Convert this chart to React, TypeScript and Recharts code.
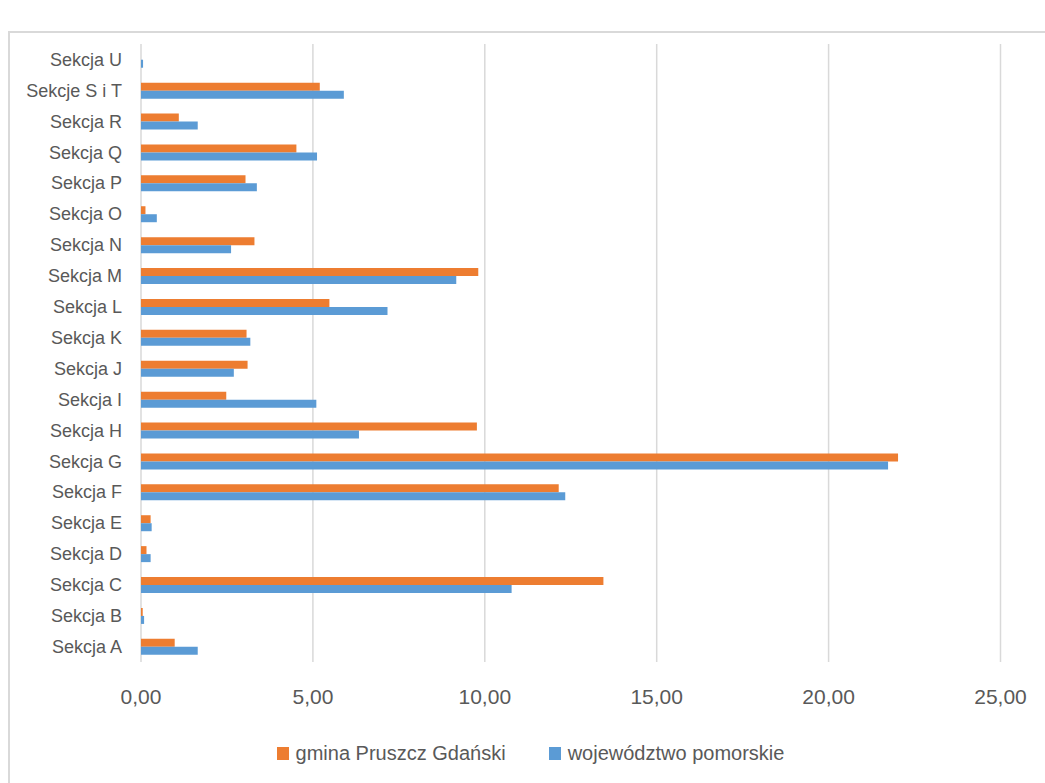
import { BarChart, Bar, XAxis, YAxis, CartesianGrid, Legend } from "recharts";

// sekcje PKD, od dołu (A) do góry (U)
const sections = [
  "Sekcja A", "Sekcja B", "Sekcja C", "Sekcja D", "Sekcja E", "Sekcja F", "Sekcja G",
  "Sekcja H", "Sekcja I", "Sekcja J", "Sekcja K", "Sekcja L", "Sekcja M", "Sekcja N",
  "Sekcja O", "Sekcja P", "Sekcja Q", "Sekcja R", "Sekcje S i T", "Sekcja U",
];
const gmina = [0.98, 0.05, 13.45, 0.16, 0.28, 12.15, 22.02, 9.77, 2.48, 3.1, 3.07, 5.48, 9.81, 3.3, 0.13, 3.04, 4.52, 1.1, 5.2, 0];
const wojewodztwo = [1.65, 0.09, 10.78, 0.28, 0.31, 12.34, 21.73, 6.34, 5.1, 2.7, 3.18, 7.17, 9.17, 2.62, 0.46, 3.37, 5.12, 1.65, 5.9, 0.06];
const xTicks = [0, 5, 10, 15, 20, 25];

const ORANGE = "#ED7D31";
const BLUE = "#5B9BD5";
const TEXT = "#595959";
const FONT = "'Liberation Sans', Arial, sans-serif";

const data = sections.map((name, i) => ({
  name,
  gmina: gmina[i],
  woj: wojewodztwo[i],
}));

const fmt = (v: number) => v.toFixed(2).replace(".", ",");

function LegendContent({ payload }: any) {
  return (
    <div style={{ display: "flex", justifyContent: "center", height: 24, alignItems: "center", marginLeft: 16, fontFamily: FONT }}>
      {(payload || []).map((p: any, i: number) => (
        <div key={p.value} style={{ display: "flex", alignItems: "center", marginLeft: i ? 43 : 0 }}>
          <span style={{ width: 12, height: 13, background: p.color, display: "inline-block", marginRight: 7 }} />
          <span style={{ fontSize: 20, color: TEXT }}>{p.value}</span>
        </div>
      ))}
    </div>
  );
}

export default function App() {
  return (
    <div style={{ position: "fixed", left: 0, top: 0, width: 1045, height: 783, overflow: "hidden", background: "#fff" }}>
      <div style={{ position: "absolute", left: 8, top: 31, width: 1100, height: 800, border: "2px solid #d9d9d9" }} />
      <div style={{ position: "absolute", left: 0, top: 0 }}>
        <BarChart
          width={1045}
          height={783}
          data={data}
          layout="vertical"
          margin={{ top: 44, right: 44.5, bottom: 18, left: 0 }}
          barCategoryGap="25%"
          barGap={0}
        >
          <CartesianGrid horizontal={false} stroke="#d9d9d9" strokeWidth={1.5} />
          <XAxis
            type="number"
            domain={[0, 25]}
            ticks={xTicks}
            tickFormatter={fmt}
            axisLine={false}
            tickLine={false}
            tickSize={0}
            tickMargin={27}
            height={79}
            interval={0}
            tick={{ fill: TEXT, fontSize: 21, fontFamily: FONT }}
          />
          <YAxis
            type="category"
            dataKey="name"
            reversed
            width={141}
            axisLine={false}
            tickLine={false}
            tickSize={0}
            tickMargin={19}
            interval={0}
            tick={{ fill: TEXT, fontSize: 18, fontFamily: FONT }}
          />
          <Legend verticalAlign="bottom" content={<LegendContent />} wrapperStyle={{ left: 0, width: 1045 }} />
          <Bar dataKey="gmina" name="gmina Pruszcz Gdański" fill={ORANGE} isAnimationActive={false} />
          <Bar dataKey="woj" name="województwo pomorskie" fill={BLUE} isAnimationActive={false} />
        </BarChart>
      </div>
    </div>
  );
}
